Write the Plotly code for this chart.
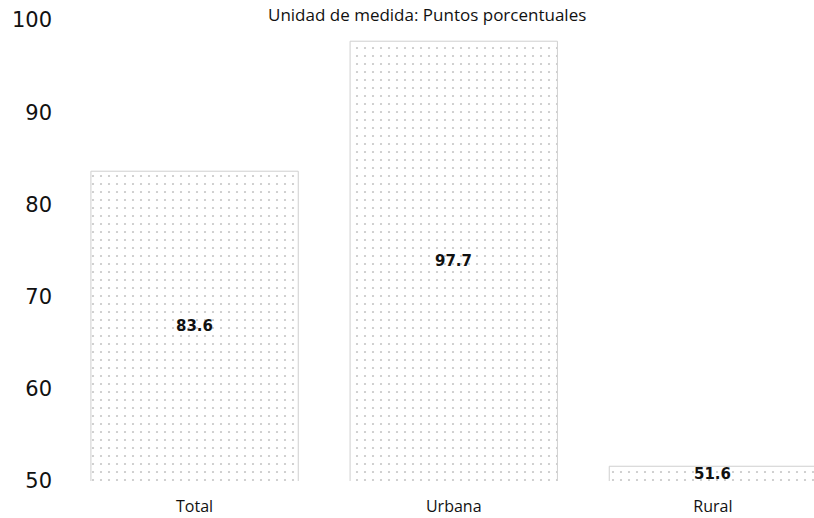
import plotly.graph_objects as go

# Data
categories = ["Total", "Urbana", "Rural"]
values = [83.6, 97.7, 51.6]
y_ticks = [50, 60, 70, 80, 90, 100]
title_text = "Unidad de medida: Puntos porcentuales"

fig = go.Figure()

fig.add_trace(go.Bar(
    x=categories,
    y=values,
    width=0.8,
    marker=dict(
        color="white",
        line=dict(color="#cfcfcf", width=1),
        pattern=dict(shape=".", fgcolor="#8c8c8c", bgcolor="white",
                     size=8, solidity=0.06),
    ),
    hoverinfo="skip",
))

# Value labels centred in the visible part of each bar
y_min = y_ticks[0]
for cat, v in zip(categories, values):
    fig.add_annotation(
        x=cat, y=(y_min + v) / 2, text=f"<b>{v:.1f}</b>",
        showarrow=False, font=dict(family="DejaVu Sans", size=15, color="#111"),
    )

fig.add_annotation(
    xref="paper", yref="paper", x=0.483, y=1.0, yanchor="bottom", yshift=-8,
    text=title_text, showarrow=False,
    font=dict(family="Open Sans", size=17, color="#111"),
)

fig.update_layout(
    width=814, height=518,
    margin=dict(l=65, r=0, t=20, b=37),
    paper_bgcolor="white", plot_bgcolor="white",
    showlegend=False,
    bargap=0.2,
    xaxis=dict(
        range=[-0.5, 2.39], showgrid=False, zeroline=False, showline=False,
        ticks="", ticklabelstandoff=14,
        tickfont=dict(family="Open Sans", size=16, color="#111"),
    ),
    yaxis=dict(
        range=[50, 100], tickvals=y_ticks, showgrid=False, zeroline=False,
        showline=False, ticks="", ticklabelstandoff=12,
        tickfont=dict(family="DejaVu Sans", size=21, color="#111"),
    ),
)

fig.write_html("out.html")
